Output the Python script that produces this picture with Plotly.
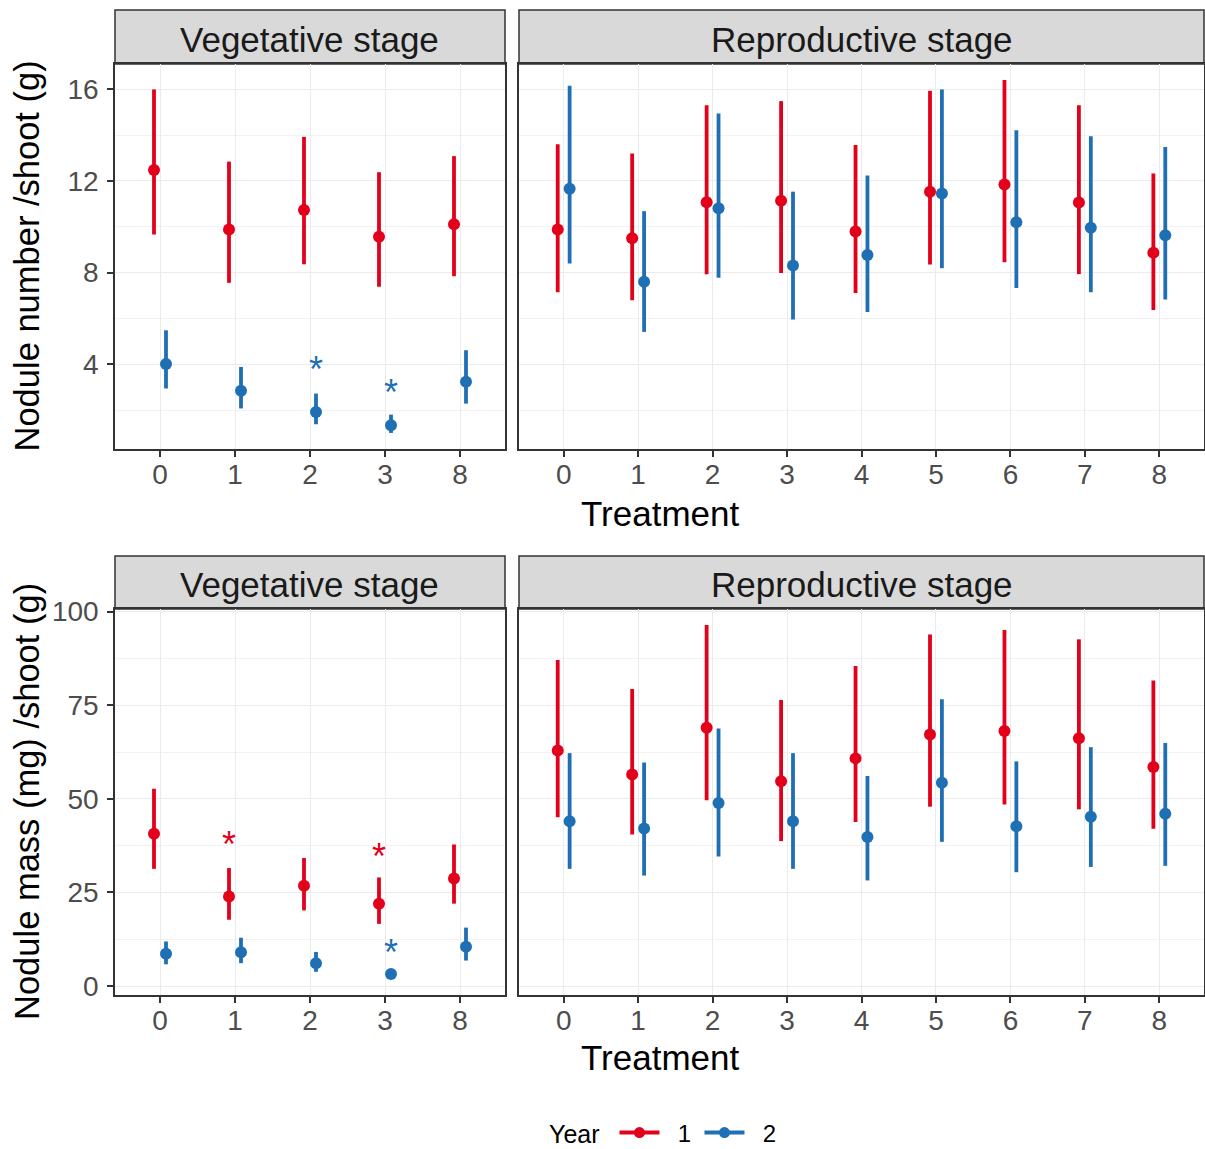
import plotly.graph_objects as go

# ---------------- data ----------------
veg_treat = ["0", "1", "2", "3", "8"]
rep_treat = ["0", "1", "2", "3", "4", "5", "6", "7", "8"]

# Nodule number / shoot
num_veg_y1 = [12.47, 9.88, 10.73, 9.56, 10.11]
num_veg_y1_lo = [9.66, 7.55, 8.36, 7.38, 7.84]
num_veg_y1_hi = [15.99, 12.84, 13.92, 12.38, 13.08]
num_veg_y2 = [4.01, 2.84, 1.91, 1.34, 3.23]
num_veg_y2_lo = [2.94, 2.07, 1.38, 1.00, 2.28]
num_veg_y2_hi = [5.48, 3.88, 2.72, 1.80, 4.61]

num_rep_y1 = [9.88, 9.50, 11.07, 11.13, 9.79, 11.53, 11.84, 11.06, 8.86]
num_rep_y1_lo = [7.14, 6.79, 7.93, 7.98, 7.11, 8.35, 8.45, 7.93, 6.36]
num_rep_y1_hi = [13.60, 13.19, 15.30, 15.48, 13.57, 15.93, 16.40, 15.30, 12.32]
num_rep_y2 = [11.66, 7.60, 10.81, 8.31, 8.77, 11.45, 10.19, 9.95, 9.63]
num_rep_y2_lo = [8.39, 5.41, 7.77, 5.95, 6.28, 8.19, 7.33, 7.14, 6.82]
num_rep_y2_hi = [16.15, 10.68, 14.94, 11.53, 12.23, 15.99, 14.21, 13.95, 13.48]

# Nodule mass / shoot
mass_veg_y1 = [40.7, 23.9, 26.8, 22.0, 28.7]
mass_veg_y1_lo = [31.3, 17.7, 20.2, 16.6, 22.0]
mass_veg_y1_hi = [52.7, 31.5, 34.2, 29.0, 37.8]
mass_veg_y2 = [8.6, 9.0, 6.1, 3.2, 10.5]
mass_veg_y2_lo = [5.8, 6.1, 3.8, 2.3, 6.8]
mass_veg_y2_hi = [11.9, 12.9, 9.1, 4.1, 15.6]

mass_rep_y1 = [62.9, 56.5, 69.0, 54.7, 60.8, 67.2, 68.1, 66.2, 58.5]
mass_rep_y1_lo = [45.1, 40.5, 49.6, 38.7, 43.8, 47.9, 48.5, 47.2, 42.0]
mass_rep_y1_hi = [87.1, 79.3, 96.4, 76.4, 85.5, 93.9, 95.1, 92.6, 81.6]
mass_rep_y2 = [44.0, 42.1, 48.9, 44.0, 39.8, 54.3, 42.7, 45.2, 46.0]
mass_rep_y2_lo = [31.3, 29.5, 34.6, 31.3, 28.2, 38.5, 30.4, 31.8, 32.1]
mass_rep_y2_hi = [62.2, 59.7, 68.8, 62.2, 56.1, 76.6, 60.0, 63.8, 64.9]

# significance asterisks (vegetative stage): treatment, year, y
num_star_treat = ["2", "3"]
num_star_year = ["2", "2"]
num_star_y = [4.03, 3.04]
mass_star_treat = ["1", "3", "3"]
mass_star_year = ["1", "1", "2"]
mass_star_y = [39.3, 36.2, 10.5]

years = ["1", "2"]
num_yticks = [4, 8, 12, 16]
num_yminor = [2, 6, 10, 14]
num_range = [0.3, 17.1]
mass_yticks = [0, 25, 50, 75, 100]
mass_yminor = [12.5, 37.5, 62.5, 87.5]
mass_range = [-2.4, 100.7]

# ---------------- style ----------------
W, H = 1205, 1149
RED = "#E3001B"
BLUE = "#1F6FB5"
colors = {"1": RED, "2": BLUE}
dodge = {"1": -0.08, "2": 0.08}
FONT = "Liberation Sans, Arial, sans-serif"
GRID = "#EBEBEB"
BORDER = "#333333"


def px_x(a, b):
    return [a / W, b / W]


def px_y(top, bot):
    return [1 - bot / H, 1 - top / H]


xl = (115, 505)
xr = (519, 1204)
rows = [dict(strip=(10, 64), plot=(64, 449)), dict(strip=(556, 609), plot=(609, 995))]

fig = go.Figure()

panels = [
    ("x", "y", veg_treat, num_veg_y1, num_veg_y1_lo, num_veg_y1_hi, num_veg_y2, num_veg_y2_lo, num_veg_y2_hi),
    ("x2", "y2", rep_treat, num_rep_y1, num_rep_y1_lo, num_rep_y1_hi, num_rep_y2, num_rep_y2_lo, num_rep_y2_hi),
    ("x3", "y3", veg_treat, mass_veg_y1, mass_veg_y1_lo, mass_veg_y1_hi, mass_veg_y2, mass_veg_y2_lo, mass_veg_y2_hi),
    ("x4", "y4", rep_treat, mass_rep_y1, mass_rep_y1_lo, mass_rep_y1_hi, mass_rep_y2, mass_rep_y2_lo, mass_rep_y2_hi),
]

for xa, ya, cats, m1, l1, h1, m2, l2, h2 in panels:
    for yr, m, lo, hi in (("1", m1, l1, h1), ("2", m2, l2, h2)):
        xs = [i + dodge[yr] for i in range(len(cats))]
        fig.add_trace(go.Scatter(
            x=xs, y=m, mode="markers", xaxis=xa, yaxis=ya,
            marker=dict(color=colors[yr], size=12),
            error_y=dict(type="data", symmetric=False,
                         array=[h - v for h, v in zip(hi, m)],
                         arrayminus=[v - l for v, l in zip(m, lo)],
                         color=colors[yr], thickness=3.8, width=0),
            showlegend=False, hoverinfo="skip"))

# asterisks
for xa, ya, st, sy, sv in (("x", "y", num_star_treat, num_star_year, num_star_y),
                           ("x3", "y3", mass_star_treat, mass_star_year, mass_star_y)):
    for t, yr, v in zip(st, sy, sv):
        fig.add_annotation(x=veg_treat.index(t) + dodge[yr], y=v, xref=xa, yref=ya,
                           text="*", showarrow=False, yshift=-6,
                           font=dict(family=FONT, size=36, color=colors[yr]))

# legend-only traces
for yr in years:
    fig.add_trace(go.Scatter(x=[None], y=[None], mode="lines+markers", name="\u00a0\u00a0" + yr,
                             line=dict(color=colors[yr], width=4),
                             marker=dict(color=colors[yr], size=11),
                             xaxis="x", yaxis="y", showlegend=True))

tickfont = dict(family=FONT, size=28, color="#4D4D4D")


def xaxis(dom, cats, anchor):
    return dict(domain=px_x(*dom), anchor=anchor, range=[-0.6, len(cats) - 0.4],
                tickmode="array", tickvals=list(range(len(cats))), ticktext=cats,
                showgrid=True, gridcolor=GRID, gridwidth=1, zeroline=False,
                showline=True, linecolor=BORDER, linewidth=1.5, mirror=True,
                ticks="outside", ticklen=6, tickwidth=1.5, tickcolor=BORDER,
                tickfont=tickfont, ticklabelstandoff=-6,
                fixedrange=True, automargin=False)


def yaxis(dom, rng_, ticks, minor, anchor, labels):
    d = dict(domain=px_y(*dom), anchor=anchor, range=rng_,
             tickmode="array", tickvals=ticks,
             showgrid=True, gridcolor=GRID, gridwidth=1.2, zeroline=False,
             showline=True, linecolor=BORDER, linewidth=1.5, mirror=True,
             minor=dict(tickmode="array", tickvals=minor, showgrid=True,
                        gridcolor="#F2F2F2", gridwidth=0.8, ticks=""),
             fixedrange=True, automargin=False)
    if labels:
        d.update(ticks="outside", ticklen=6, tickwidth=1.5, tickcolor=BORDER,
                 tickfont=tickfont, showticklabels=True, ticklabelstandoff=3)
    else:
        d.update(ticks="", showticklabels=False)
    return d


fig.update_layout(
    width=W, height=H, margin=dict(l=0, r=0, t=0, b=0, autoexpand=False),
    paper_bgcolor="white", plot_bgcolor="white",
    font=dict(family=FONT),
    xaxis=xaxis(xl, veg_treat, "y"),
    xaxis2=xaxis(xr, rep_treat, "y2"),
    xaxis3=xaxis(xl, veg_treat, "y3"),
    xaxis4=xaxis(xr, rep_treat, "y4"),
    yaxis=yaxis(rows[0]["plot"], num_range, num_yticks, num_yminor, "x", True),
    yaxis2=yaxis(rows[0]["plot"], num_range, num_yticks, num_yminor, "x2", False),
    yaxis3=yaxis(rows[1]["plot"], mass_range, mass_yticks, mass_yminor, "x3", True),
    yaxis4=yaxis(rows[1]["plot"], mass_range, mass_yticks, mass_yminor, "x4", False),
    legend=dict(orientation="h", x=547 / W, xanchor="left", y=1 - 1133 / H, yanchor="middle",
                title=dict(text="Year\u00a0", font=dict(family=FONT, size=25, color="black"), side="left"),
                font=dict(family=FONT, size=24, color="black"), itemwidth=40, tracegroupgap=0,
                entrywidth=30, entrywidthmode="pixels",
                bgcolor="rgba(0,0,0,0)", borderwidth=0),
)

# facet strips
shapes = []
for r in rows:
    st, sb = r["strip"]
    for (a, b), label in ((xl, "Vegetative stage"), (xr, "Reproductive stage")):
        shapes.append(dict(type="rect", xref="paper", yref="paper",
                           x0=a / W, x1=b / W, y0=1 - sb / H, y1=1 - st / H,
                           fillcolor="#D9D9D9", line=dict(color=BORDER, width=1.5), layer="below"))
        fig.add_annotation(x=(a + b) / 2 / W, y=1 - (st + sb) / 2 / H, xref="paper", yref="paper",
                           text=label, showarrow=False, xanchor="center", yanchor="middle",
                           yshift=-2, font=dict(family=FONT, size=35, color="#1A1A1A"))
fig.update_layout(shapes=shapes)

# x axis titles
for yy in (513, 1057):
    fig.add_annotation(x=(xl[0] + xr[1]) / 2 / W, y=1 - yy / H, xref="paper", yref="paper",
                       text="Treatment", showarrow=False, xanchor="center", yanchor="middle",
                       font=dict(family=FONT, size=35, color="black"))

# y axis titles
for r, title in zip(rows, ("Nodule number /shoot (g)", "Nodule mass (mg) /shoot (g)")):
    t, b = r["plot"]
    fig.add_annotation(x=27 / W, y=1 - (t + b) / 2 / H, xref="paper", yref="paper",
                       text=title, textangle=-90, showarrow=False,
                       xanchor="center", yanchor="middle",
                       font=dict(family=FONT, size=34.5, color="black"))

fig.write_html("out.html")
